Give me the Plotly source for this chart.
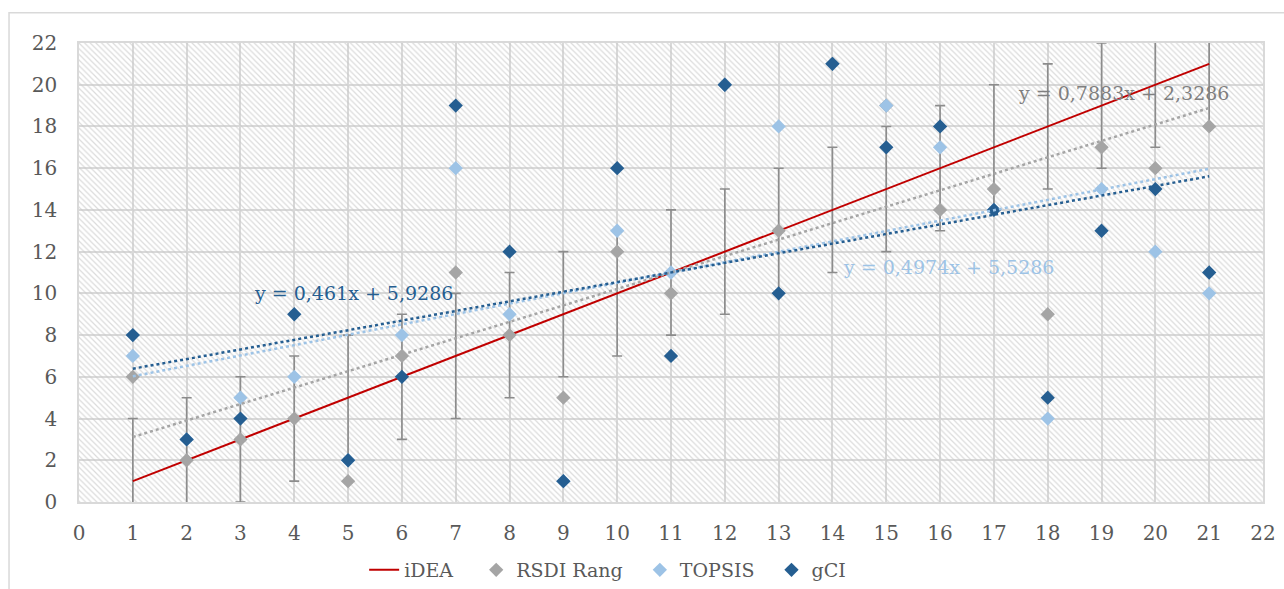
import numpy as np
import plotly.graph_objects as go

# ---------------- data ----------------
x_pos = list(range(1, 22))
idea = list(range(1, 22))
idea_err = [3] * 21
rsdi = [6, 2, 3, 4, 1, 7, 11, 8, 5, 12, 10, 20, 13, 21, 19, 14, 15, 9, 17, 16, 18]
topsis = [7, 3, 5, 6, 2, 8, 16, 9, 1, 13, 11, 20, 18, 21, 19, 17, 14, 4, 15, 12, 10]
gci = [8, 3, 4, 9, 2, 6, 19, 12, 1, 16, 7, 20, 10, 21, 17, 18, 14, 5, 13, 15, 11]

series_names = ["iDEA", "RSDI Rang", "TOPSIS", "gCI"]

x_ticks = list(range(0, 23, 1))
y_ticks = list(range(0, 23, 2))
axis_range = [0, 22]

eq_rsdi = "y = 0,7883x + 2,3286"
eq_topsis = "y = 0,4974x + 5,5286"
eq_gci = "y = 0,461x + 5,9286"

# ---------------- styles ----------------
RED = "#C00000"
GRAY = "#A5A5A5"
LBLUE = "#9DC3E6"
DBLUE = "#255E91"
GRID = "#D9D9D9"
TXT = "#595959"
FONT = "DejaVu Serif"
NB = "\u00a0"
legend_pad = [3, 2, 2, 0]  # extra spacing after each legend entry


def lg(i):
    return series_names[i] + NB * legend_pad[i]


fig = go.Figure()

# hatched plot-area background
fig.add_trace(go.Scatter(
    x=[axis_range[0], axis_range[1], axis_range[1], axis_range[0], axis_range[0]],
    y=[axis_range[0], axis_range[0], axis_range[1], axis_range[1], axis_range[0]],
    mode="none", fill="toself", fillcolor="rgba(0,0,0,0)",
    fillpattern=dict(shape="\\", fgcolor="rgba(200,200,200,0.65)", bgcolor="rgba(0,0,0,0)",
                     size=4, solidity=0.3, fillmode="replace"),
    hoverinfo="skip", showlegend=False))

# iDEA line with error bars
fig.add_trace(go.Scatter(
    x=x_pos, y=idea, mode="lines", name=lg(0),
    line=dict(color=RED, width=2),
    error_y=dict(type="data", array=idea_err, symmetric=True,
                 color="#8C8C8C", thickness=1.6, width=5)))

mk = dict(symbol="diamond", size=11, line=dict(width=0))
fig.add_trace(go.Scatter(x=x_pos, y=rsdi, mode="markers", name=lg(1),
                         marker=dict(color=GRAY, **mk)))
fig.add_trace(go.Scatter(x=x_pos, y=topsis, mode="markers", name=lg(2),
                         marker=dict(color=LBLUE, **mk)))
fig.add_trace(go.Scatter(x=x_pos, y=gci, mode="markers", name=lg(3),
                         marker=dict(color=DBLUE, **mk)))

# linear trendlines
xs = np.array(x_pos, dtype=float)
for ys, col in [(rsdi, GRAY), (topsis, LBLUE), (gci, DBLUE)]:
    k, b = np.polyfit(xs, np.array(ys, dtype=float), 1)
    xe = np.array([xs.min(), xs.max()])
    fig.add_trace(go.Scatter(x=xe, y=k * xe + b, mode="lines",
                             line=dict(color=col, width=2.5, dash="dot"),
                             showlegend=False, hoverinfo="skip"))

# trendline equations
for txt, xx, yy, col in [(eq_rsdi, 19.4, 19.6, "#7F7F7F"),
                         (eq_topsis, 16.15, 11.27, LBLUE),
                         (eq_gci, 5.1, 10.02, DBLUE)]:
    fig.add_annotation(x=xx, y=yy, text=txt, showarrow=False,
                       font=dict(family=FONT, size=19, color=col))

axis_common = dict(range=axis_range, showgrid=True, gridcolor=GRID, gridwidth=1.6,
                   zeroline=False, showline=True, linecolor=GRID, linewidth=1.6,
                   mirror=True, ticks="", automargin=False,
                   tickfont=dict(family=FONT, size=20, color=TXT))
fig.update_xaxes(tickvals=x_ticks, ticklabelstandoff=12, **axis_common)
fig.update_yaxes(tickvals=y_ticks, ticklabelstandoff=16, **axis_common)

# outer chart frame
fig.add_shape(type="rect", xref="paper", yref="paper",
              x0=-0.0591, x1=1.2, y0=-0.4, y1=1.066,
              line=dict(color=GRID, width=1.5), fillcolor="rgba(0,0,0,0)", layer="below")

fig.update_layout(
    width=1284, height=589,
    margin=dict(l=79, r=21, t=43, b=87, autoexpand=False),
    paper_bgcolor="white", plot_bgcolor="white",
    font=dict(family=FONT, color=TXT, size=19),
    legend=dict(orientation="h", x=0.4465, xanchor="center", y=-0.148, yanchor="middle",
                font=dict(family=FONT, size=19, color=TXT), bgcolor="rgba(0,0,0,0)"),
    showlegend=True,
)

fig.write_html("out.html")
